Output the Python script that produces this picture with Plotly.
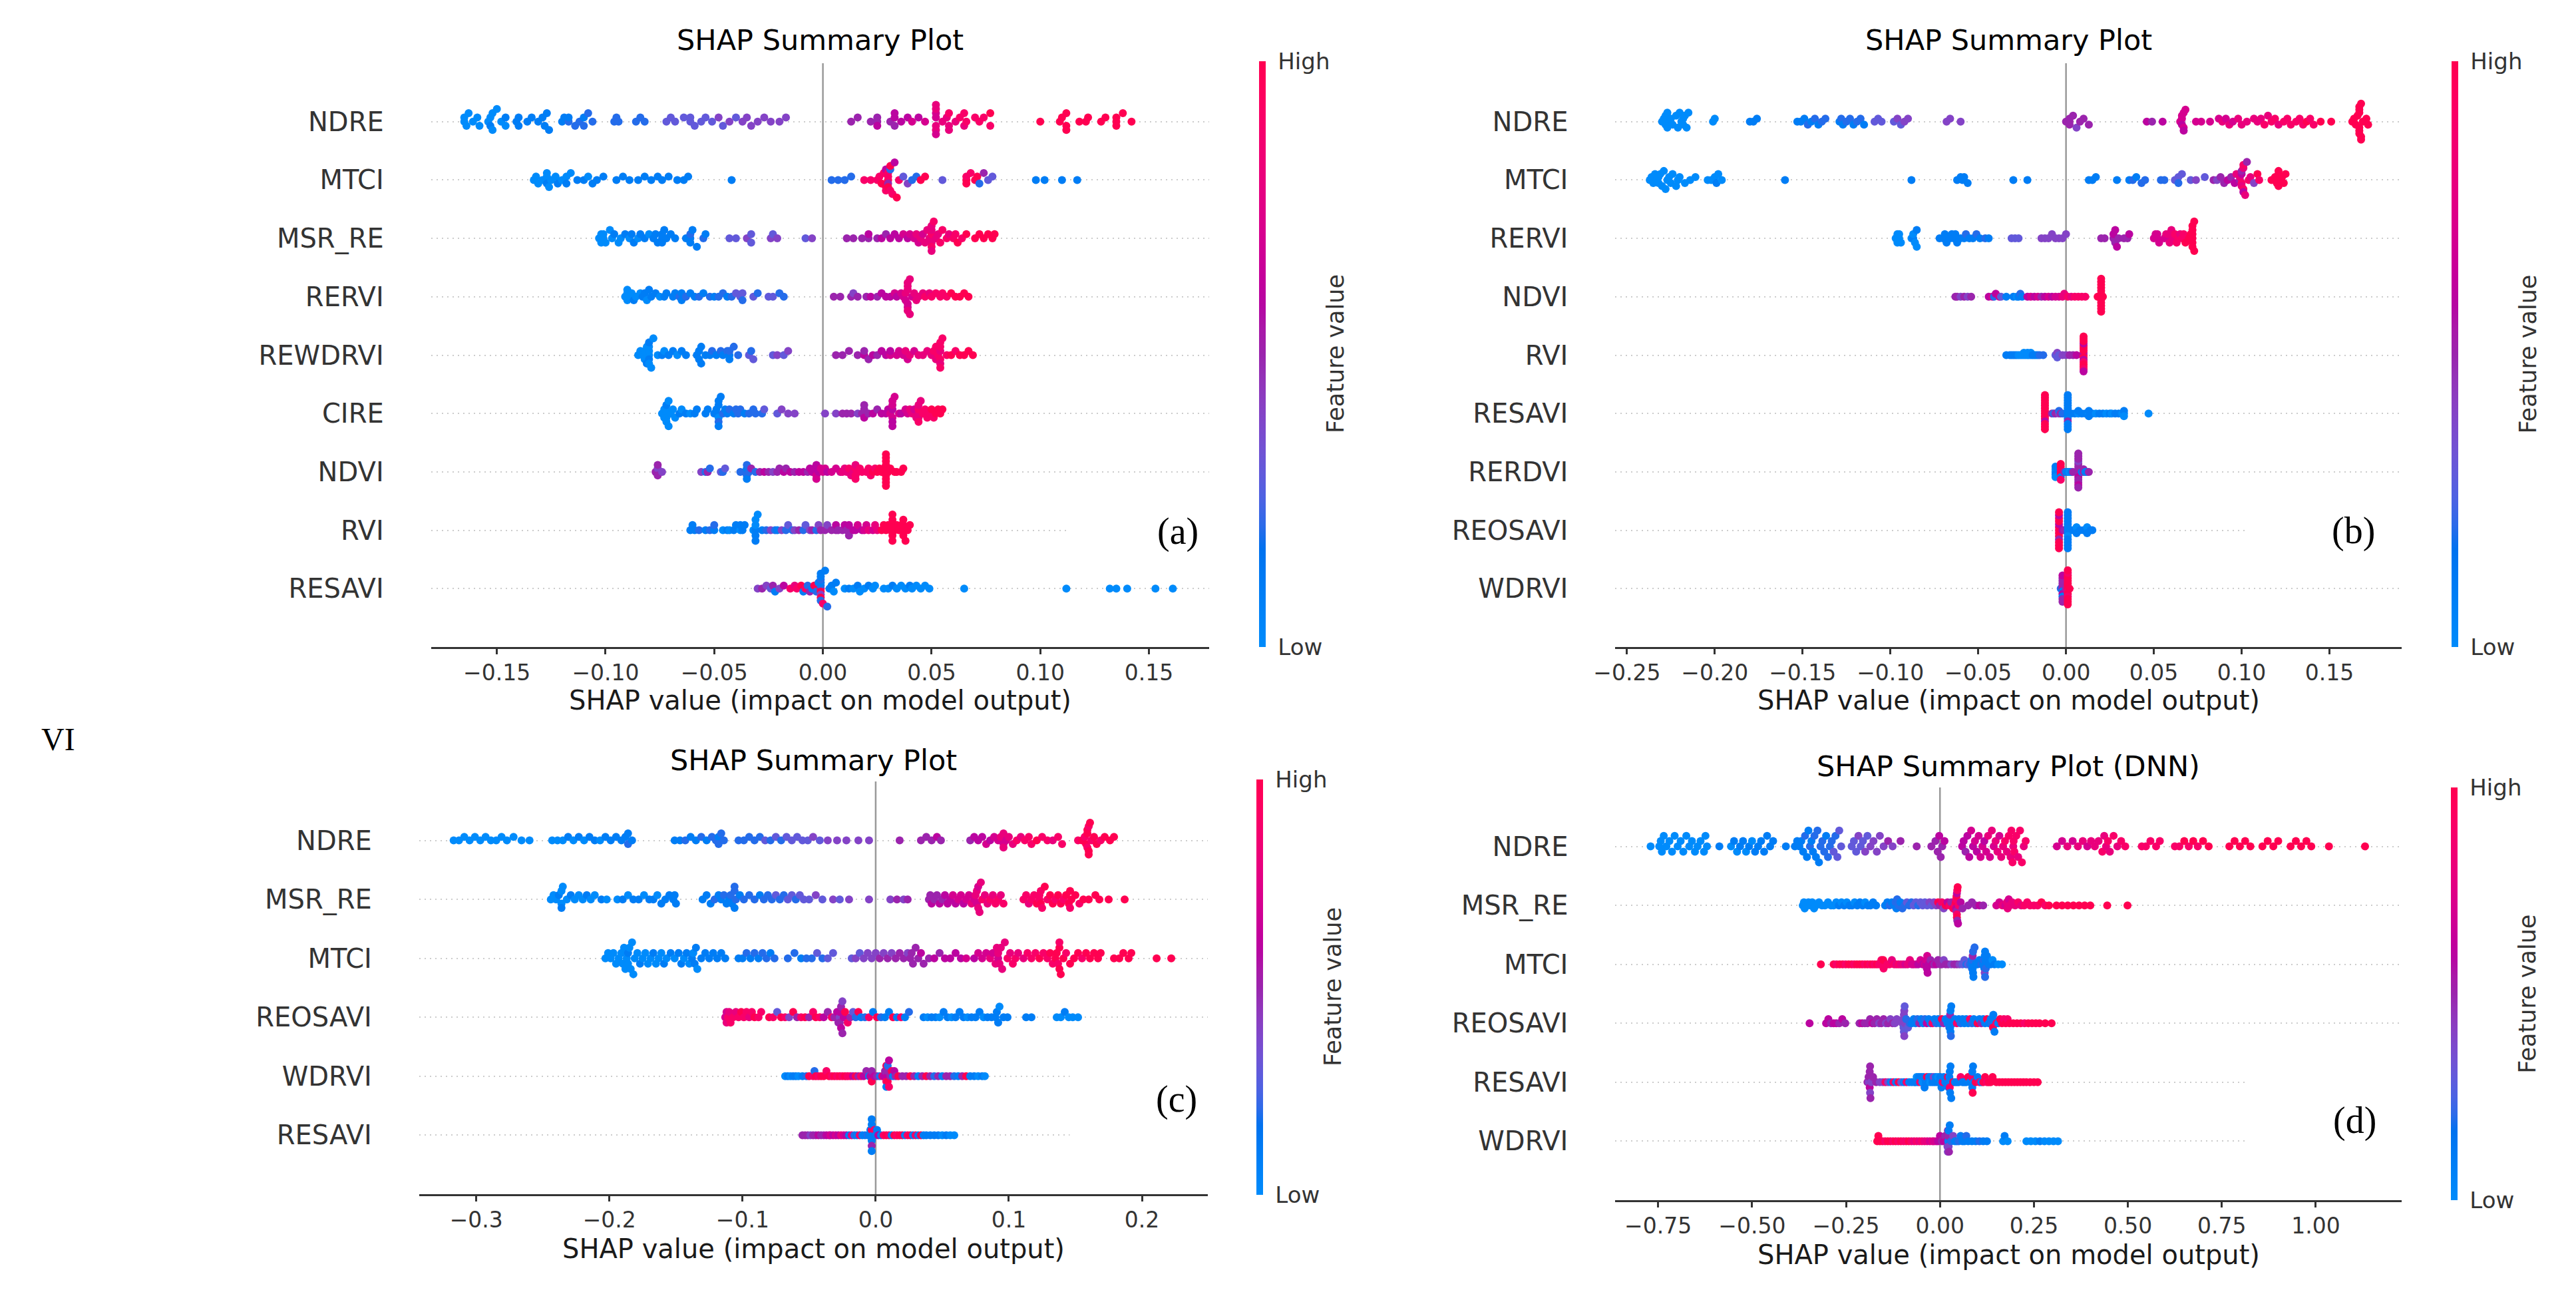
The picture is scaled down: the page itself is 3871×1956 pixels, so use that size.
import numpy as np
import plotly.graph_objects as go

W, H = 3871, 1956

# ---------------- panel (a) ----------------
a_features = ["NDRE", "MTCI", "MSR_RE", "RERVI", "REWDRVI", "CIRE", "NDVI", "RVI", "RESAVI"]
a_ticks = [-0.15, -0.10, -0.05, 0.00, 0.05, 0.10, 0.15]
a_shap = [
    # NDRE
    [-0.165, -0.165, -0.164, -0.163, -0.161, -0.159, -0.158, -0.154, -0.153, -0.153, -0.152, -0.152, -0.150, -0.148, -0.146, -0.146,
     -0.141, -0.140, -0.140, -0.136, -0.134, -0.131, -0.129, -0.128, -0.127, -0.126,
     -0.120, -0.119, -0.117, -0.117, -0.114, -0.112, -0.110, -0.110, -0.108, -0.106,
     -0.096, -0.095, -0.094, -0.086, -0.084, -0.082,
     -0.072, -0.070, -0.068, -0.064, -0.061, -0.061, -0.059, -0.056, -0.054,
     -0.051, -0.048, -0.046, -0.043, -0.040, -0.037, -0.035,
     -0.033, -0.030, -0.027, -0.024, -0.020, -0.017,
     0.013, 0.016, 0.022, 0.025, 0.025, 0.025,
     0.031, 0.033, 0.033, 0.033, 0.036, 0.039, 0.041, 0.044, 0.047,
     0.052, 0.052, 0.052, 0.052, 0.052, 0.052, 0.052,
     0.055, 0.057, 0.058, 0.058, 0.058, 0.061, 0.063, 0.065, 0.065, 0.066,
     0.070, 0.072, 0.074, 0.077, 0.077,
     0.100, 0.109, 0.110, 0.112, 0.112, 0.112, 0.118, 0.121, 0.122, 0.128, 0.130, 0.135, 0.135, 0.135, 0.138, 0.142],
    # MTCI
    [-0.133, -0.132, -0.131, -0.129, -0.127, -0.127, -0.127, -0.126, -0.125, -0.123, -0.122, -0.120, -0.118, -0.118, -0.116, -0.113,
     -0.110, -0.108, -0.106, -0.104, -0.101, -0.095, -0.092, -0.089, -0.085, -0.082, -0.079, -0.076, -0.074, -0.071, -0.067, -0.064,
     -0.062, -0.042,
     0.004, 0.007, 0.010, 0.013, 0.019, 0.022, 0.025,
     0.026, 0.027, 0.028, 0.029, 0.029, 0.029, 0.030, 0.030, 0.030, 0.030, 0.030, 0.031, 0.031, 0.031, 0.032, 0.033, 0.034, 0.035,
     0.037, 0.039, 0.041, 0.043, 0.045, 0.047, 0.055,
     0.066, 0.066, 0.066, 0.068, 0.070, 0.071, 0.072, 0.074, 0.076, 0.078, 0.098, 0.102, 0.110, 0.117],
    # MSR_RE
    [-0.103, -0.102, -0.102, -0.101, -0.101, -0.100, -0.098, -0.097, -0.096, -0.094, -0.093, -0.091, -0.089, -0.088,
     -0.087, -0.085, -0.084, -0.082, -0.080, -0.078, -0.077, -0.076, -0.074, -0.074, -0.074, -0.073, -0.072, -0.070, -0.068,
     -0.063, -0.061, -0.061, -0.061, -0.060, -0.058, -0.055, -0.054, -0.043, -0.040, -0.035, -0.033, -0.033,
     -0.024, -0.023, -0.021, -0.008, -0.005,
     0.011, 0.014, 0.018, 0.021, 0.021, 0.025, 0.027, 0.029, 0.031, 0.033, 0.035, 0.037, 0.039, 0.040,
     0.042, 0.043, 0.044, 0.045, 0.046, 0.047, 0.048, 0.049, 0.050, 0.050, 0.050, 0.050, 0.050, 0.050, 0.051, 0.052,
     0.053, 0.054, 0.055, 0.057, 0.058, 0.060, 0.061, 0.062, 0.064, 0.066, 0.070, 0.072, 0.074, 0.076, 0.078, 0.079],
    # RERVI
    [-0.091, -0.090, -0.090, -0.090, -0.089, -0.088, -0.087, -0.086, -0.084, -0.083,
     -0.082, -0.081, -0.080, -0.079, -0.077, -0.075, -0.073, -0.072,
     -0.069, -0.068, -0.066, -0.065, -0.065, -0.063, -0.061, -0.059, -0.057, -0.055,
     -0.052, -0.050, -0.048, -0.046, -0.044, -0.042, -0.040, -0.038, -0.037, -0.037,
     -0.032, -0.030, -0.025, -0.023, -0.020, -0.018,
     0.005, 0.008, 0.013, 0.014, 0.016, 0.020, 0.022, 0.025, 0.027, 0.029, 0.031, 0.033, 0.034,
     0.036, 0.037, 0.038, 0.038, 0.039, 0.039, 0.039, 0.039, 0.039, 0.039, 0.040, 0.040, 0.041, 0.042, 0.043, 0.044,
     0.046, 0.047, 0.049, 0.050, 0.052, 0.054, 0.055, 0.057, 0.059, 0.061, 0.063, 0.065, 0.067],
    # REWDRVI
    [-0.085, -0.084, -0.083, -0.082, -0.082, -0.081, -0.081, -0.080, -0.080, -0.080, -0.080, -0.080, -0.080, -0.079, -0.078,
     -0.076, -0.074, -0.073, -0.071, -0.069, -0.067, -0.065, -0.063,
     -0.058, -0.057, -0.057, -0.056, -0.056,
     -0.054, -0.052, -0.051, -0.049, -0.047, -0.046, -0.044, -0.043, -0.043, -0.043,
     -0.041, -0.039, -0.034, -0.033, -0.032, -0.023, -0.021, -0.018, -0.016,
     0.006, 0.009, 0.012, 0.016, 0.019, 0.019, 0.021, 0.023, 0.025, 0.027, 0.029, 0.031, 0.031, 0.034,
     0.035, 0.037, 0.038, 0.039, 0.040, 0.042, 0.044, 0.046, 0.048, 0.050,
     0.051, 0.052, 0.052, 0.053, 0.054, 0.054, 0.054, 0.054, 0.054, 0.054, 0.055, 0.057, 0.059, 0.061,
     0.063, 0.065, 0.067, 0.069],
    # CIRE
    [-0.074, -0.073, -0.073, -0.072, -0.072, -0.072, -0.072, -0.072, -0.071, -0.071, -0.070, -0.069,
     -0.068, -0.066, -0.065, -0.063, -0.061, -0.059, -0.058,
     -0.054, -0.053, -0.050, -0.049, -0.049, -0.048, -0.048, -0.048, -0.048, -0.048, -0.047, -0.046, -0.045,
     -0.044, -0.043, -0.041, -0.040, -0.039, -0.038, -0.036, -0.034, -0.032, -0.031,
     -0.028, -0.027, -0.021, -0.019, -0.016, -0.013,
     0.001, 0.006, 0.009, 0.011, 0.013, 0.016, 0.018, 0.019, 0.019, 0.019,
     0.021, 0.023, 0.025, 0.027, 0.029,
     0.030, 0.031, 0.032, 0.032, 0.032, 0.032, 0.032, 0.032, 0.033, 0.035, 0.036, 0.038, 0.039, 0.040,
     0.041, 0.042, 0.043, 0.044, 0.044, 0.044, 0.044, 0.044, 0.045, 0.046, 0.047, 0.048, 0.049,
     0.050, 0.051, 0.052, 0.053, 0.054, 0.055],
    # NDVI
    [-0.077, -0.076, -0.076, -0.076, -0.074, -0.056, -0.054, -0.053, -0.052, -0.047, -0.046, -0.045,
     -0.038, -0.036, -0.035, -0.035, -0.035, -0.035, -0.034,
     -0.033, -0.031, -0.029, -0.027, -0.025, -0.023, -0.021,
     -0.020, -0.018, -0.017, -0.015, -0.013, -0.011, -0.009, -0.007, -0.006, -0.005,
     -0.004, -0.003, -0.003, -0.003, -0.002, -0.001, 0.000, 0.001, 0.002,
     0.004, 0.006, 0.008, 0.009,
     0.010, 0.011, 0.012, 0.013, 0.014, 0.015, 0.015, 0.015, 0.015, 0.016, 0.017, 0.018,
     0.020, 0.021, 0.022, 0.023, 0.024, 0.025, 0.026,
     0.027, 0.028, 0.029, 0.029, 0.029, 0.029, 0.029, 0.029, 0.029, 0.029, 0.030, 0.031,
     0.033, 0.034, 0.036, 0.037],
    # RVI
    [-0.061, -0.060, -0.059, -0.057, -0.054, -0.052, -0.050, -0.050,
     -0.046, -0.044, -0.043, -0.041, -0.040, -0.038, -0.038, -0.037, -0.036,
     -0.032, -0.031, -0.031, -0.031, -0.031, -0.031, -0.030,
     -0.028, -0.026, -0.024, -0.022, -0.021, -0.019, -0.017,
     -0.016, -0.014, -0.013, -0.011, -0.009, -0.008, -0.006, -0.005, -0.003, -0.002, -0.001,
     0.001, 0.002, 0.004, 0.006, 0.006, 0.007, 0.009, 0.010, 0.011, 0.012, 0.012, 0.014,
     0.015, 0.016, 0.018, 0.019, 0.020, 0.021, 0.023, 0.024, 0.025,
     0.027, 0.028, 0.029, 0.030, 0.031, 0.032, 0.032, 0.032, 0.032, 0.032, 0.033, 0.034, 0.035, 0.036,
     0.037, 0.037, 0.037, 0.037, 0.038, 0.039, 0.040],
    # RESAVI
    [-0.030, -0.028, -0.026, -0.024, -0.023, -0.022, -0.020, -0.018, -0.015, -0.013, -0.012,
     -0.010, -0.009, -0.008, -0.007, -0.006,
     -0.005, -0.004, -0.003, -0.002, -0.001, -0.001, -0.001, -0.001, -0.001, -0.001, -0.001, -0.001, -0.001, -0.001,
     0.000, 0.001, 0.002,
     0.003, 0.004, 0.005, 0.006, 0.010, 0.012, 0.014, 0.016, 0.017, 0.019, 0.021, 0.023, 0.024,
     0.028, 0.030, 0.032, 0.034, 0.036, 0.038, 0.040, 0.041, 0.043, 0.045, 0.047, 0.049,
     0.065, 0.112, 0.132, 0.135, 0.140, 0.153, 0.161],
]
# feature value of each point, 0 = low ... 10 = high
a_color = [
    [0, 0, 0, 0, 0, 0, 0, 0, 0, 1, 0, 0, 0, 0, 1, 0, 1, 1, 1, 1, 1, 1, 1, 1, 1, 1, 1, 1, 2, 1, 2, 2, 1, 2, 2, 2,
     2, 2, 2, 2, 2, 2, 3, 3, 3, 3, 3, 3, 3, 3, 3, 3, 4, 3, 4, 3, 4, 4, 4, 4, 4, 4, 4, 4,
     5, 5, 5, 5, 5, 6, 5, 6, 5, 6, 6, 6, 7, 6, 7, 7, 8, 7, 8, 8, 7, 8, 8, 8, 8, 9, 8, 8, 9, 8, 9, 9,
     9, 9, 9, 9, 10, 10, 10, 10, 10, 10, 10, 10, 10, 10, 10, 10, 10, 10, 10, 10, 10],
    [0, 0, 0, 0, 0, 1, 0, 0, 0, 0, 1, 0, 0, 1, 0, 1, 1, 0, 1, 1, 1, 1, 1, 1, 1, 1, 1, 1, 1, 1, 1, 1, 1, 1,
     2, 2, 2, 2, 9, 9, 9, 9, 10, 9, 10, 6, 9, 10, 9, 5, 9, 10, 2, 9, 10, 9, 6, 10, 9,
     3, 4, 2, 2, 10, 10, 3, 10, 9, 10, 9, 10, 10, 2, 5, 3, 3, 1, 1, 1, 1],
    [0, 0, 0, 0, 0, 0, 0, 0, 1, 0, 0, 1, 0, 1, 1, 0, 1, 1, 0, 1, 1, 1, 1, 1, 1, 1, 1, 1, 1,
     1, 1, 2, 1, 1, 1, 2, 1, 3, 3, 4, 3, 3, 4, 3, 4, 3, 4,
     5, 5, 5, 5, 6, 5, 6, 5, 6, 6, 6, 7, 6, 7,
     7, 8, 7, 8, 7, 8, 8, 8, 9, 8, 8, 9, 8, 8, 9, 8,
     8, 9, 9, 9, 8, 9, 9, 10, 9, 10, 10, 10, 10, 10, 10, 10],
    [0, 0, 0, 0, 0, 0, 1, 0, 0, 1, 1, 0, 1, 1, 1, 0, 1, 1, 1, 1, 2, 1, 1, 2, 1, 1, 2, 1,
     2, 1, 2, 2, 1, 2, 3, 3, 3, 2, 3, 2, 3, 3, 2, 2,
     5, 5, 5, 4, 5, 5, 6, 5, 6, 6, 6, 7, 6,
     7, 7, 8, 7, 8, 7, 8, 7, 8, 8, 8, 8, 7, 8, 8, 8,
     8, 9, 8, 9, 9, 9, 9, 9, 10, 10, 10, 10, 10],
    [0, 0, 0, 0, 0, 0, 1, 0, 0, 1, 0, 0, 1, 0, 0, 0, 1, 0, 1, 1, 0, 1, 1, 1, 1, 1, 1, 1,
     1, 1, 2, 1, 2, 1, 2, 1, 2, 1, 2, 2, 3, 2, 3, 3, 4, 3, 4,
     5, 5, 5, 5, 6, 5, 5, 6, 5, 6, 6, 7, 6, 7, 7, 7, 8, 7, 8, 7, 8, 8, 8, 8,
     9, 8, 9, 9, 8, 9, 9, 8, 9, 9, 9, 9, 10, 9, 10, 10, 10, 10],
    [0, 0, 0, 0, 0, 0, 1, 0, 0, 0, 0, 0, 0, 1, 0, 1, 0, 1, 1,
     1, 1, 1, 1, 1, 0, 1, 2, 1, 1, 1, 2, 1, 1, 2, 1, 2, 2, 2, 1, 2, 2, 2, 2, 3, 3, 4, 4, 4,
     4, 4, 5, 5, 5, 4, 5, 5, 6, 5, 5, 6, 5, 6, 6,
     6, 7, 6, 7, 7, 6, 7, 6, 7, 7, 6, 7, 7, 8, 8, 7, 8, 8, 9, 8, 8, 9, 8, 9, 9, 9, 9,
     10, 9, 10, 10, 10, 10],
    [5, 4, 5, 5, 4, 4, 2, 5, 2, 3, 2, 3, 2, 2, 1, 2, 2, 1, 2, 5, 2, 5, 6, 5, 4, 5,
     5, 6, 5, 6, 5, 6, 6, 5, 6, 6, 6, 7, 6, 7, 6, 7, 7, 7, 6,
     7, 7, 7, 8, 8, 8, 9, 8, 8, 9, 9, 8, 9, 9, 9, 9, 9, 9, 9, 10, 9, 10, 10,
     10, 10, 10, 10, 10, 10, 10, 10, 10, 10, 10, 10, 10, 10, 10, 10],
    [1, 1, 1, 2, 1, 2, 1, 2, 0, 1, 0, 1, 1, 0, 1, 1, 1, 0, 1, 0, 1, 0, 1, 0,
     1, 2, 4, 2, 1, 4, 2, 3, 2, 4, 5, 2, 3, 4, 5, 2, 4, 5,
     5, 4, 5, 5, 6, 5, 5, 6, 5, 6, 5, 6, 6, 7, 6, 7, 7, 8, 7, 8, 8,
     10, 10, 10, 10, 10, 10, 10, 10, 10, 10, 10, 10, 10, 10, 10, 10, 10, 10, 10, 10, 10],
    [4, 5, 4, 3, 5, 1, 4, 6, 9, 8, 9, 10, 1, 9, 2, 5,
     1, 10, 2, 1, 9, 2, 10, 1, 4, 2, 10, 1, 2, 1, 9, 1, 2,
     1, 1, 0, 1, 0, 1, 0, 1, 0, 0, 1, 0, 0,
     0, 0, 1, 0, 0, 0, 1, 0, 0, 0, 0, 0, 0, 0, 0, 0, 0, 0, 0],
]

# ---------------- panel (b) ----------------
b_features = ["NDRE", "MTCI", "RERVI", "NDVI", "RVI", "RESAVI", "RERDVI", "REOSAVI", "WDRVI"]
b_ticks = [-0.25, -0.20, -0.15, -0.10, -0.05, 0.00, 0.05, 0.10, 0.15]
b_shap = [
    [-0.230, -0.229, -0.228, -0.228, -0.227, -0.227, -0.226, -0.225, -0.224, -0.222, -0.221, -0.220, -0.219, -0.218, -0.218,
     -0.217, -0.216, -0.215, -0.201, -0.200, -0.180, -0.178, -0.176,
     -0.153, -0.151, -0.149, -0.147, -0.145, -0.143, -0.141, -0.139, -0.137,
     -0.129, -0.128, -0.127, -0.125, -0.123, -0.121, -0.119, -0.117, -0.115,
     -0.109, -0.107, -0.105, -0.098, -0.096, -0.094, -0.092, -0.090, -0.068, -0.066, -0.060,
     0.000, 0.002, 0.002, 0.002, 0.004, 0.006, 0.008, 0.010, 0.013, 0.046, 0.049, 0.055,
     0.065, 0.066, 0.066, 0.066, 0.067, 0.067, 0.067, 0.068, 0.074, 0.077, 0.082,
     0.087, 0.089, 0.091, 0.093, 0.095, 0.098, 0.100, 0.103,
     0.107, 0.109, 0.111, 0.113, 0.115, 0.117, 0.119, 0.121, 0.124, 0.126,
     0.128, 0.131, 0.133, 0.135, 0.137, 0.139, 0.141, 0.145, 0.151,
     0.163, 0.164, 0.165, 0.166, 0.167, 0.167, 0.167, 0.167, 0.167, 0.167, 0.168, 0.168, 0.168, 0.169, 0.171, 0.172],
    [-0.237, -0.236, -0.235, -0.234, -0.233, -0.232, -0.232, -0.231, -0.230, -0.229, -0.228, -0.227, -0.226, -0.225, -0.224,
     -0.222, -0.221, -0.220, -0.217, -0.214, -0.211, -0.204, -0.202, -0.200, -0.199, -0.198, -0.196,
     -0.160, -0.088, -0.062, -0.060, -0.059, -0.058, -0.056, -0.030, -0.022,
     0.013, 0.015, 0.017, 0.029, 0.036, 0.038, 0.040, 0.043, 0.045, 0.054, 0.056, 0.062, 0.064, 0.064, 0.066,
     0.071, 0.074, 0.079, 0.084, 0.086, 0.088, 0.090, 0.092, 0.094,
     0.096, 0.097, 0.099, 0.099, 0.100, 0.100, 0.100, 0.100, 0.101, 0.101, 0.101, 0.101, 0.102, 0.103, 0.104,
     0.105, 0.107, 0.109, 0.110, 0.117, 0.119, 0.120, 0.121, 0.121, 0.121, 0.122, 0.123, 0.124, 0.125],
    [-0.097, -0.096, -0.096, -0.095, -0.095, -0.094, -0.088, -0.087, -0.087, -0.086, -0.085, -0.085,
     -0.072, -0.070, -0.069, -0.068, -0.066, -0.065, -0.064, -0.063, -0.062, -0.060, -0.058, -0.057, -0.055,
     -0.053, -0.051, -0.049, -0.046, -0.044, -0.031, -0.029, -0.027,
     -0.014, -0.012, -0.010, -0.008, -0.006, -0.004, -0.002, 0.000,
     0.020, 0.022, 0.027, 0.027, 0.028, 0.028, 0.029, 0.030, 0.033, 0.035, 0.036,
     0.050, 0.051, 0.052, 0.052, 0.053, 0.056, 0.057, 0.058, 0.058, 0.059, 0.060, 0.061, 0.062,
     0.063, 0.064, 0.065, 0.066, 0.067, 0.068, 0.070, 0.071, 0.072, 0.072, 0.072, 0.072, 0.072, 0.072, 0.073, 0.073],
    [-0.063, -0.062, -0.060, -0.058, -0.056, -0.054, -0.044, -0.042, -0.041, -0.040, -0.038, -0.037, -0.034,
     -0.030, -0.028, -0.027, -0.026, -0.025,
     -0.022, -0.020, -0.018, -0.016, -0.014, -0.012, -0.010, -0.008, -0.006, -0.004, -0.002,
     -0.001, 0.001, 0.003, 0.005, 0.007, 0.009, 0.011,
     0.018, 0.019, 0.020, 0.020, 0.020, 0.020, 0.020, 0.020, 0.020, 0.020, 0.020, 0.020, 0.020, 0.021],
    [-0.034, -0.032, -0.031, -0.030, -0.029, -0.028, -0.027, -0.026, -0.025, -0.024, -0.024, -0.023, -0.022, -0.022,
     -0.021, -0.020, -0.020, -0.019, -0.018, -0.017, -0.016, -0.015, -0.013,
     -0.006, -0.005, -0.005, -0.005, -0.004, -0.002, 0.000, 0.002, 0.004, 0.006,
     0.010, 0.010, 0.010, 0.010, 0.010, 0.010, 0.010, 0.010, 0.010, 0.010, 0.010, 0.010, 0.010, 0.010, 0.010, 0.010],
    [-0.012, -0.012, -0.012, -0.012, -0.012, -0.012, -0.012, -0.012, -0.012, -0.012, -0.012, -0.012, -0.012, -0.012,
     -0.008, -0.007, -0.006, -0.004, -0.004, -0.003, -0.002,
     0.001, 0.001, 0.001, 0.001, 0.001, 0.001, 0.001, 0.001, 0.001, 0.001, 0.001, 0.001, 0.001, 0.001,
     0.003, 0.005, 0.007, 0.007, 0.009, 0.011, 0.013, 0.013, 0.013, 0.015, 0.017, 0.019, 0.021, 0.023,
     0.025, 0.026, 0.028, 0.030, 0.032, 0.033, 0.033, 0.033, 0.047],
    [-0.006, -0.006, -0.006, -0.006, -0.006, -0.003, -0.003, -0.003, -0.003, -0.003, -0.003, -0.003, -0.001,
     0.000, 0.001, 0.002, 0.003, 0.004,
     0.007, 0.007, 0.007, 0.007, 0.007, 0.007, 0.007, 0.007, 0.007, 0.007, 0.007, 0.007, 0.007, 0.007,
     0.009, 0.010, 0.010, 0.011, 0.012, 0.013],
    [-0.004, -0.004, -0.004, -0.004, -0.004, -0.004, -0.004, -0.004, -0.004, -0.004, -0.004, -0.004, -0.004,
     -0.002, -0.001,
     0.001, 0.001, 0.001, 0.001, 0.001, 0.001, 0.001, 0.001, 0.001, 0.001, 0.001, 0.001, 0.001,
     0.004, 0.005, 0.006, 0.006, 0.006, 0.008, 0.010, 0.012, 0.012, 0.012, 0.014, 0.015],
    [-0.003, -0.002, -0.002, -0.002, -0.002, -0.002, -0.002, -0.002, -0.002, -0.002, -0.002, -0.002, 0.000,
     0.001, 0.001, 0.001, 0.001, 0.001, 0.001, 0.001, 0.001, 0.001, 0.001, 0.001, 0.001, 0.001, 0.001, 0.002],
]
b_color = [
    [0, 0, 0, 0, 0, 0, 0, 0, 0, 0, 0, 0, 0, 0, 0, 0, 0, 0, 0, 0, 1, 1, 1,
     1, 1, 1, 2, 1, 2, 1, 2, 2, 1, 2, 1, 2, 2, 1, 2, 2, 1, 3, 3, 3, 3, 4, 3, 4, 4, 4, 4, 4,
     5, 5, 5, 5, 5, 4, 5, 5, 5, 6, 5, 6, 7, 7, 6, 7, 7, 7, 6, 7, 7, 7, 7,
     7, 8, 7, 8, 7, 8, 8, 8, 8, 8, 8, 9, 8, 9, 9, 8, 9, 9,
     9, 9, 9, 9, 10, 9, 9, 10, 10,
     10, 10, 10, 10, 10, 10, 10, 10, 10, 10, 10, 10, 10, 10, 10, 10],
    [0, 0, 0, 0, 0, 0, 0, 0, 0, 0, 0, 0, 0, 0, 0, 0, 0, 0, 0, 0, 0, 0, 0, 0, 1, 0, 0,
     1, 1, 1, 1, 1, 1, 1, 1, 1,
     1, 1, 1, 1, 1, 2, 1, 2, 2, 2, 2, 3, 3, 2, 3, 3, 4, 3, 5, 4, 5, 5, 6, 5,
     6, 8, 5, 8, 9, 6, 8, 5, 9, 8, 6, 9, 8, 5, 9,
     8, 4, 10, 9, 10, 10, 10, 10, 10, 10, 10, 10, 10, 10],
    [0, 0, 0, 0, 0, 0, 0, 1, 0, 0, 1, 0,
     1, 1, 1, 1, 1, 1, 1, 1, 1, 1, 1, 2, 1, 1, 2, 1, 2, 1, 3, 3, 3,
     4, 4, 4, 4, 4, 4, 4, 4,
     5, 5, 5, 6, 5, 6, 6, 5, 5, 5, 6,
     7, 7, 7, 7, 7, 7, 8, 7, 8, 8, 8, 8, 9,
     9, 9, 8, 9, 9, 10, 10, 10, 10, 10, 10, 10, 10, 10, 10, 10],
    [5, 5, 4, 5, 4, 5, 6, 7, 2, 6, 7, 3, 1, 1, 0, 1, 2, 1,
     6, 7, 6, 7, 5, 6, 7, 6, 7, 7, 8, 8, 9, 8, 9, 9, 9, 9,
     10, 10, 10, 10, 10, 10, 10, 10, 10, 10, 10, 10, 10, 10],
    [1, 1, 1, 1, 1, 1, 0, 0, 0, 0, 0, 0, 0, 0, 0, 0, 0, 1, 1, 1, 1, 2, 2,
     3, 3, 4, 3, 3, 4, 4, 5, 5, 6,
     10, 6, 10, 10, 6, 10, 9, 10, 10, 6, 10, 10, 9, 10, 6, 10],
    [10, 10, 10, 10, 10, 10, 6, 10, 10, 10, 10, 10, 10, 10, 5, 2, 5, 4, 2, 5, 2,
     1, 1, 1, 1, 1, 1, 5, 1, 1, 1, 1, 1, 1, 1,
     1, 1, 0, 1, 1, 1, 0, 1, 1, 1, 0, 1, 1, 0, 1, 0, 1, 1, 0, 0, 1, 0, 0],
    [1, 0, 1, 1, 0, 10, 9, 10, 10, 1, 10, 9, 5, 1, 1, 0, 1, 5,
     5, 5, 5, 5, 6, 5, 5, 4, 5, 5, 6, 5, 5, 5, 1, 5, 5, 1, 1, 5],
    [10, 10, 10, 6, 10, 10, 5, 10, 10, 6, 10, 10, 10, 6, 5,
     1, 1, 1, 1, 0, 1, 1, 1, 1, 1, 1, 1, 1, 1, 1, 1, 0, 1, 1, 1, 1, 0, 1, 1, 1],
    [2, 5, 5, 1, 5, 6, 5, 1, 5, 5, 6, 5, 5,
     10, 10, 9, 10, 10, 10, 9, 10, 10, 10, 10, 9, 10, 10, 10],
]

# ---------------- panel (c) ----------------
c_features = ["NDRE", "MSR_RE", "MTCI", "REOSAVI", "WDRVI", "RESAVI"]
c_ticks = [-0.3, -0.2, -0.1, 0.0, 0.1, 0.2]
c_shap = [
    [-0.317, -0.313, -0.309, -0.305, -0.301, -0.297, -0.293, -0.289, -0.285, -0.281, -0.277, -0.272, -0.266, -0.260,
     -0.243, -0.239, -0.235, -0.231, -0.227, -0.223, -0.219, -0.215, -0.211, -0.207, -0.203, -0.199, -0.195, -0.191,
     -0.188, -0.186, -0.186, -0.183,
     -0.151, -0.147, -0.143, -0.139, -0.135, -0.131, -0.127, -0.123, -0.120, -0.118, -0.118, -0.116, -0.114,
     -0.103, -0.099, -0.095, -0.091, -0.087, -0.083, -0.079, -0.075, -0.071, -0.067, -0.063, -0.059, -0.055, -0.051,
     -0.047, -0.042, -0.036, -0.029, -0.022, -0.013, -0.005,
     0.018, 0.034, 0.038, 0.042, 0.046, 0.049,
     0.071, 0.074, 0.077, 0.080, 0.083, 0.086, 0.089, 0.092, 0.094, 0.096, 0.096, 0.096, 0.098, 0.100, 0.103, 0.106,
     0.109, 0.112, 0.115, 0.117, 0.121, 0.125, 0.129, 0.133, 0.137, 0.140,
     0.152, 0.155, 0.157, 0.158, 0.159, 0.159, 0.159, 0.160, 0.160, 0.160, 0.161, 0.162, 0.164, 0.166, 0.169, 0.172,
     0.176, 0.179],
    [-0.244, -0.242, -0.240, -0.238, -0.236, -0.236, -0.236, -0.235, -0.232, -0.229, -0.226, -0.223, -0.220, -0.217,
     -0.214, -0.211, -0.206, -0.202,
     -0.194, -0.190, -0.186, -0.182, -0.178, -0.174, -0.170, -0.167, -0.164, -0.161, -0.158, -0.155, -0.152, -0.151, -0.150,
     -0.130, -0.127, -0.124, -0.121, -0.118, -0.116, -0.114, -0.112, -0.110, -0.109, -0.108, -0.106, -0.106, -0.106,
     -0.105, -0.102, -0.099,
     -0.095, -0.091, -0.087, -0.084, -0.081, -0.078, -0.075, -0.072, -0.069, -0.066, -0.063, -0.060, -0.057, -0.054,
     -0.050, -0.045, -0.040, -0.032, -0.027, -0.020,
     -0.005, 0.011, 0.016, 0.021, 0.024,
     0.040, 0.041, 0.042, 0.044, 0.046, 0.048, 0.050, 0.052, 0.054, 0.056, 0.058, 0.060, 0.062, 0.064, 0.066, 0.068,
     0.070, 0.072,
     0.074, 0.075, 0.076, 0.076, 0.077, 0.077, 0.078, 0.079, 0.080, 0.082, 0.084, 0.086, 0.088, 0.090, 0.092, 0.094, 0.096,
     0.111, 0.113, 0.115, 0.117, 0.119, 0.121, 0.123, 0.123, 0.124, 0.124, 0.125, 0.127, 0.129, 0.131, 0.133, 0.135,
     0.137, 0.139, 0.141, 0.143, 0.145, 0.146, 0.146, 0.147, 0.150, 0.153, 0.156, 0.160, 0.165, 0.168,
     0.175, 0.187],
    [-0.203, -0.201, -0.199, -0.197, -0.195, -0.193, -0.191, -0.190, -0.189, -0.188, -0.187, -0.186, -0.186, -0.185,
     -0.184, -0.183, -0.182, -0.181, -0.179, -0.177, -0.175, -0.173, -0.171, -0.169, -0.167, -0.165, -0.163, -0.161, -0.159,
     -0.157, -0.154, -0.151, -0.148, -0.146, -0.144, -0.142, -0.140, -0.138, -0.137, -0.136, -0.135, -0.134, -0.131,
     -0.128, -0.125, -0.122, -0.119, -0.116, -0.113,
     -0.103, -0.100, -0.097, -0.094, -0.091, -0.088, -0.085, -0.082, -0.079, -0.076,
     -0.066, -0.061, -0.056, -0.052, -0.048, -0.044, -0.040, -0.036, -0.032,
     -0.018, -0.015, -0.012, -0.009, -0.006, -0.003, 0.000, 0.003, 0.006, 0.009, 0.012, 0.015, 0.018, 0.021, 0.024,
     0.026, 0.027, 0.028,
     0.030, 0.032, 0.034, 0.036, 0.040, 0.044, 0.048, 0.052, 0.056, 0.060, 0.064, 0.068,
     0.074, 0.077, 0.080, 0.083, 0.086, 0.088, 0.090, 0.091, 0.092, 0.092, 0.093, 0.094, 0.095, 0.097, 0.099, 0.101,
     0.103, 0.105, 0.107,
     0.111, 0.114, 0.117, 0.120, 0.123, 0.126, 0.129, 0.131, 0.133, 0.135, 0.136, 0.137, 0.138, 0.138, 0.138, 0.139,
     0.141, 0.143, 0.146, 0.149, 0.152, 0.155, 0.158, 0.161, 0.164, 0.167, 0.169,
     0.179, 0.183, 0.186, 0.190, 0.192, 0.211, 0.222],
    [-0.113, -0.112, -0.112, -0.111, -0.110, -0.109, -0.107, -0.105, -0.103, -0.101, -0.099, -0.097, -0.095, -0.093,
     -0.091, -0.088, -0.086,
     -0.080, -0.077, -0.074, -0.071, -0.068, -0.065, -0.062, -0.059, -0.056, -0.053, -0.050, -0.047,
     -0.045, -0.042, -0.039, -0.036, -0.033, -0.031, -0.029, -0.028, -0.027, -0.027, -0.027, -0.026, -0.026, -0.025,
     -0.025, -0.024, -0.023, -0.021, -0.019, -0.017, -0.015, -0.013,
     -0.011, -0.008, -0.005, -0.002, 0.001, 0.004, 0.007, 0.010, 0.013, 0.016, 0.019, 0.022, 0.025,
     0.036, 0.039, 0.042, 0.045, 0.048, 0.051, 0.054, 0.057, 0.060, 0.063, 0.066, 0.069, 0.072, 0.075, 0.078, 0.081,
     0.084, 0.087, 0.090, 0.091, 0.092, 0.093, 0.096, 0.099,
     0.113, 0.117, 0.136, 0.139, 0.142, 0.145, 0.148, 0.152],
    [-0.068, -0.066, -0.064, -0.062, -0.060, -0.058, -0.055, -0.052,
     -0.050, -0.047, -0.046, -0.045, -0.043, -0.041, -0.039, -0.037, -0.035, -0.033, -0.031, -0.029, -0.027, -0.025,
     -0.023, -0.021,
     -0.019, -0.017, -0.015, -0.013, -0.011, -0.009, -0.007, -0.005, -0.004, -0.003, -0.003, -0.001, 0.001, 0.003,
     0.005, 0.006, 0.007, 0.008, 0.008, 0.008, 0.009, 0.009, 0.009, 0.009, 0.010, 0.010, 0.011, 0.012, 0.013, 0.014, 0.015,
     0.017, 0.020, 0.023, 0.026, 0.029, 0.032, 0.035, 0.038, 0.041, 0.044, 0.047, 0.050, 0.053, 0.056, 0.059, 0.062,
     0.065, 0.068, 0.071, 0.074, 0.077, 0.080, 0.082],
    [-0.055, -0.053, -0.051, -0.049, -0.047, -0.045, -0.043, -0.041, -0.039, -0.037, -0.035,
     -0.034, -0.032, -0.030, -0.028, -0.026, -0.024, -0.022, -0.020, -0.018, -0.016, -0.014, -0.012,
     -0.010, -0.008, -0.006, -0.005, -0.004, -0.003, -0.003, -0.003, -0.003, -0.003, -0.003, -0.003, -0.002, -0.001,
     0.000, 0.001, 0.002,
     0.004, 0.006, 0.008, 0.010, 0.012, 0.014, 0.016, 0.018, 0.020, 0.022, 0.024, 0.026, 0.028, 0.030, 0.032, 0.034, 0.036,
     0.038, 0.041, 0.044, 0.047, 0.050, 0.053, 0.056, 0.059],
]
c_color = [
    [0, 0, 0, 0, 0, 0, 0, 0, 0, 0, 0, 0, 0, 0,
     0, 0, 0, 1, 0, 1, 0, 1, 1, 0, 1, 1, 1, 1, 1, 2, 1, 1,
     1, 1, 2, 1, 1, 2, 1, 2, 2, 1, 2, 2, 2,
     2, 2, 2, 2, 2, 3, 2, 3, 2, 3, 3, 3, 3, 3, 4, 3, 4, 4, 4, 4, 4,
     5, 5, 5, 5, 6, 5,
     5, 6, 6, 6, 7, 6, 7, 7, 8, 7, 8, 8, 7, 8, 8, 9, 8, 9, 9,
     9, 10, 9, 9, 8, 9, 9,
     9, 10, 9, 10, 10, 9, 10, 10, 9, 10, 10, 9, 10, 10, 9, 10, 10, 10],
    [0, 0, 0, 1, 0, 0, 1, 0, 0, 1, 0, 0, 0, 1, 0, 0, 1, 0,
     0, 1, 0, 1, 1, 0, 1, 1, 0, 1, 1, 1, 1, 1, 1,
     1, 1, 1, 2, 1, 1, 2, 1, 1, 2, 1, 2, 1, 2, 2, 1, 2,
     2, 2, 1, 2, 2, 2, 3, 2, 2, 3, 3, 2, 3, 3, 3, 4, 3, 4, 3, 4,
     4, 4, 5, 4, 5,
     5, 5, 6, 5, 5, 6, 5, 6, 6, 6, 7, 6, 7, 7, 6, 7, 7, 8,
     7, 8, 7, 8, 8, 7, 8, 8, 9, 8, 8, 9, 8, 9, 9, 8, 9,
     9, 9, 8, 9, 9, 10, 9, 9, 10, 9, 9, 10, 9, 10, 10, 9, 10, 10, 9, 10, 10, 10, 9, 10, 10, 9, 10, 10, 10, 10,
     10, 10],
    [0, 0, 0, 0, 0, 0, 0, 0, 0, 0, 0, 1, 0, 0, 0, 0, 0, 0, 0, 1, 0, 0, 0, 0, 1, 0, 0, 0, 1,
     0, 1, 0, 1, 1, 0, 1, 0, 1, 0, 1, 1, 0, 1, 1, 1, 1, 1, 1, 1,
     1, 1, 2, 1, 2, 1, 2, 2, 1, 2,
     2, 2, 1, 2, 2, 3, 2, 3, 3,
     3, 4, 3, 4, 4, 4, 4, 5, 4, 5, 4, 5, 5, 5, 4, 5, 5, 5,
     5, 5, 6, 5, 5, 6, 5, 6, 6, 6, 6, 7,
     6, 7, 7, 7, 8, 7, 8, 8, 7, 8, 8, 8, 8, 8, 9, 8, 9, 9, 8,
     8, 9, 9, 9, 10, 9, 9, 10, 9, 10, 10, 9, 10, 10, 9, 10, 10, 9, 10, 10, 10, 9, 10, 10, 10, 10, 10,
     10, 10, 10, 10, 10, 10, 10],
    [7, 7, 8, 9, 8, 9, 9, 8, 9, 10, 9, 9, 8, 9, 10, 9, 9,
     10, 9, 3, 10, 9, 4, 10, 5, 9, 10, 5, 9,
     10, 9, 6, 5, 9, 5, 6, 5, 4, 6, 5, 5, 6, 4, 5, 6, 10, 9, 5, 3, 2, 10,
     1, 2, 9, 1, 10, 2, 1, 1, 10, 1, 9, 1, 2,
     1, 0, 1, 1, 0, 1, 1, 0, 1, 1, 1, 0, 1, 1, 1, 0, 1, 1, 1, 1, 1, 0, 1, 1,
     1, 1, 0, 0, 1, 0, 0, 0],
    [0, 1, 0, 1, 1, 0, 1, 2,
     10, 9, 2, 10, 9, 10, 10, 9, 10, 9, 10, 9, 10, 9, 10, 9,
     9, 6, 10, 5, 9, 6, 5, 1, 6, 5, 10, 6, 5, 2,
     10, 6, 5, 9, 10, 1, 6, 5, 10, 2, 9, 6, 5, 10, 1, 6, 5,
     10, 5, 5, 10, 5, 1, 5, 10, 5, 2, 5, 1, 5, 5, 2, 1, 5, 10, 1, 1, 0, 1, 0],
    [5, 5, 5, 4, 5, 5, 6, 5, 5, 6, 6,
     7, 6, 7, 6, 8, 7, 6, 1, 8, 2, 1, 9,
     1, 1, 2, 1, 1, 1, 10, 1, 1, 5, 1, 1, 1, 9, 1, 1, 6,
     1, 9, 10, 9, 1, 10, 9, 10, 10, 1, 9, 10, 1, 9, 1, 10, 1,
     1, 1, 1, 1, 0, 1, 0, 0],
]

# ---------------- panel (d) ----------------
d_features = ["NDRE", "MSR_RE", "MTCI", "REOSAVI", "RESAVI", "WDRVI"]
d_ticks = [-0.75, -0.50, -0.25, 0.00, 0.25, 0.50, 0.75, 1.00]
d_shap = [
    [-0.770, -0.747, -0.743, -0.740, -0.735, -0.728, -0.720, -0.713, -0.706, -0.698, -0.690, -0.683, -0.675, -0.667,
     -0.660, -0.652, -0.645, -0.637, -0.628, -0.624, -0.620, -0.587,
     -0.556, -0.548, -0.540, -0.532, -0.524, -0.516, -0.508, -0.500, -0.492, -0.484, -0.476, -0.468, -0.460, -0.452,
     -0.444, -0.410,
     -0.386, -0.380, -0.374, -0.369, -0.364, -0.359, -0.354, -0.350, -0.346, -0.342, -0.338, -0.334, -0.330, -0.326,
     -0.322, -0.318, -0.313, -0.308, -0.303, -0.298, -0.293, -0.288, -0.283, -0.278, -0.273, -0.268, -0.263,
     -0.235, -0.229, -0.223, -0.217, -0.211, -0.205, -0.199, -0.193, -0.185, -0.177, -0.168, -0.160, -0.150, -0.138,
     -0.126, -0.105, -0.062,
     -0.023, -0.012, -0.006, -0.002, 0.002, 0.006, 0.012,
     0.059, 0.063, 0.068, 0.073, 0.078, 0.083, 0.088, 0.093, 0.098, 0.103, 0.108, 0.113, 0.118, 0.123, 0.128, 0.133,
     0.138, 0.143, 0.148, 0.153, 0.158, 0.163, 0.168, 0.173, 0.178, 0.183, 0.188, 0.190, 0.193, 0.195, 0.196, 0.198,
     0.203, 0.208, 0.213, 0.218, 0.223, 0.228,
     0.311, 0.325, 0.339, 0.353, 0.367, 0.380, 0.392, 0.402, 0.412, 0.422, 0.432, 0.437, 0.442, 0.447, 0.452, 0.462,
     0.472, 0.482, 0.493,
     0.537, 0.548, 0.560, 0.575, 0.585, 0.625, 0.637, 0.650, 0.662, 0.674, 0.686, 0.700, 0.715,
     0.770, 0.784, 0.798, 0.812, 0.826, 0.858, 0.872, 0.887, 0.900, 0.933, 0.947, 0.961, 0.975, 0.988, 1.035, 1.131],
    [-0.365, -0.362, -0.360, -0.355, -0.350, -0.345, -0.340, -0.335, -0.330, -0.322, -0.314, -0.306, -0.298, -0.290,
     -0.283, -0.276, -0.269, -0.262, -0.255, -0.248, -0.241, -0.234, -0.227, -0.220, -0.213, -0.206, -0.199, -0.192,
     -0.185, -0.178, -0.170,
     -0.146, -0.140, -0.134, -0.128, -0.122, -0.118, -0.116, -0.114, -0.110, -0.105, -0.100, -0.094, -0.088, -0.082,
     -0.076, -0.070, -0.064, -0.058, -0.052, -0.046, -0.040, -0.034, -0.028, -0.022, -0.016,
     -0.010, -0.005, 0.000, 0.005, 0.010, 0.015, 0.020, 0.025, 0.030, 0.035, 0.040, 0.042, 0.043, 0.043, 0.044, 0.044,
     0.045, 0.045, 0.045, 0.046, 0.046, 0.047, 0.048, 0.050, 0.055, 0.060,
     0.075, 0.085, 0.095, 0.105, 0.115,
     0.150, 0.158, 0.166, 0.174, 0.178, 0.180, 0.183, 0.186, 0.192, 0.200, 0.208, 0.216, 0.224, 0.232, 0.240, 0.250,
     0.260, 0.270, 0.280, 0.290,
     0.310, 0.325, 0.340, 0.355, 0.370, 0.385, 0.400, 0.445, 0.499],
    [-0.317, -0.283, -0.275, -0.267, -0.259, -0.251, -0.243, -0.235, -0.228, -0.221, -0.214, -0.207, -0.200, -0.193,
     -0.186, -0.180, -0.174, -0.168, -0.162, -0.156, -0.152, -0.151, -0.150,
     -0.140, -0.134, -0.128, -0.122, -0.116, -0.110, -0.104, -0.098, -0.092, -0.086, -0.080, -0.075,
     -0.070, -0.064, -0.058, -0.052, -0.046, -0.040, -0.037, -0.036, -0.035, -0.034, -0.033, -0.030, -0.025, -0.020,
     -0.015, -0.010, -0.005, 0.000, 0.005, 0.010,
     0.015, 0.022, 0.030, 0.038, 0.045, 0.052, 0.060,
     0.065, 0.070, 0.075, 0.080, 0.084, 0.085, 0.086, 0.086, 0.087, 0.087, 0.088, 0.088, 0.089, 0.092, 0.095, 0.100,
     0.105, 0.110, 0.113, 0.115, 0.117, 0.118, 0.119, 0.119, 0.120, 0.120, 0.121, 0.121, 0.122, 0.125, 0.130, 0.135,
     0.140, 0.145, 0.155, 0.165],
    [-0.347, -0.303, -0.297, -0.290, -0.283, -0.276, -0.268, -0.260, -0.252,
     -0.214, -0.207, -0.200, -0.193, -0.186, -0.180, -0.174, -0.168, -0.162, -0.156, -0.150, -0.144, -0.138, -0.132,
     -0.126, -0.120, -0.115,
     -0.100, -0.098, -0.097, -0.096, -0.096, -0.095, -0.095, -0.094, -0.093, -0.090, -0.085, -0.080, -0.075,
     -0.070, -0.065, -0.060, -0.055, -0.050, -0.045, -0.040, -0.035, -0.030, -0.025, -0.020, -0.015, -0.010, -0.005,
     0.000, 0.005, 0.010,
     0.015, 0.020, 0.024, 0.025, 0.026, 0.026, 0.027, 0.027, 0.028, 0.028, 0.029, 0.030, 0.035, 0.040, 0.045, 0.050,
     0.055, 0.060, 0.065,
     0.070, 0.075, 0.080, 0.085, 0.090, 0.095, 0.100, 0.105, 0.110, 0.115, 0.120, 0.125, 0.130, 0.135, 0.138, 0.140,
     0.141, 0.142, 0.145, 0.150, 0.155, 0.160, 0.165, 0.170, 0.175, 0.180, 0.185,
     0.195, 0.205, 0.215, 0.225, 0.235, 0.245, 0.255, 0.265, 0.280, 0.297],
    [-0.193, -0.190, -0.189, -0.188, -0.187, -0.187, -0.186, -0.186, -0.185, -0.183, -0.178, -0.170, -0.160,
     -0.152, -0.145, -0.138, -0.131, -0.124, -0.117, -0.110, -0.103, -0.096, -0.089, -0.082, -0.075,
     -0.068, -0.065, -0.062, -0.059, -0.056, -0.053, -0.050, -0.047, -0.044, -0.041, -0.038, -0.035, -0.032, -0.029,
     -0.026, -0.023, -0.020, -0.017, -0.014, -0.011, -0.008, -0.005, -0.002, 0.001, 0.004, 0.007, 0.010,
     0.014, 0.018, 0.021, 0.023, 0.024, 0.025, 0.026, 0.026, 0.027, 0.028, 0.030, 0.035, 0.040, 0.045, 0.050, 0.055,
     0.060, 0.065, 0.070, 0.075, 0.080, 0.084, 0.085, 0.086, 0.086, 0.087, 0.088, 0.090, 0.095, 0.100, 0.105, 0.110,
     0.115, 0.120, 0.125, 0.130, 0.135, 0.140,
     0.150, 0.158, 0.166, 0.174, 0.182, 0.190, 0.198, 0.206, 0.214, 0.222, 0.230, 0.240, 0.250, 0.260],
    [-0.167, -0.164, -0.160, -0.153, -0.146, -0.139, -0.132, -0.125, -0.118, -0.111, -0.104, -0.097, -0.090, -0.083,
     -0.076, -0.069, -0.062, -0.055, -0.048, -0.041, -0.034, -0.027, -0.020, -0.016,
     -0.010, -0.005, 0.000, 0.005, 0.010, 0.014, 0.018, 0.020, 0.020, 0.021, 0.021, 0.022, 0.022, 0.023, 0.023, 0.024,
     0.026, 0.030, 0.035, 0.040, 0.045, 0.050, 0.055, 0.060, 0.065, 0.070, 0.075,
     0.085, 0.095, 0.105, 0.115, 0.125, 0.168, 0.172, 0.180,
     0.230, 0.242, 0.254, 0.266, 0.278, 0.290, 0.302, 0.314],
]
d_color = [
    [0, 0, 0, 0, 0, 0, 0, 0, 0, 0, 0, 0, 0, 0, 0, 0, 0, 0, 0, 0, 0, 1,
     0, 1, 0, 1, 1, 0, 1, 0, 1, 1, 1, 1, 1, 1, 1, 1,
     1, 1, 1, 1, 1, 2, 1, 1, 2, 1, 1, 2, 1, 2, 1, 2, 2, 2, 1, 2, 2, 2, 3, 2, 3, 3, 3,
     3, 3, 3, 4, 3, 3, 4, 3, 4, 4, 4, 4, 4, 5, 4, 5, 5,
     5, 5, 5, 6, 5, 5, 6,
     6, 6, 5, 6, 6, 7, 6, 7, 6, 7, 7, 7, 6, 7, 8, 7, 8, 7, 8, 8, 7, 8, 8, 9, 8, 9, 8, 9, 9, 8, 9, 9, 9, 8, 9, 9, 8, 9,
     7, 7, 8, 7, 8, 8, 7, 8, 8, 8, 9, 8, 8, 9, 8, 9, 8, 9, 9,
     9, 9, 9, 9, 9, 9, 9, 10, 9, 10, 9, 10, 10,
     10, 10, 10, 10, 10, 10, 10, 10, 10, 10, 10, 10, 10, 10, 10, 10],
    [0, 0, 0, 0, 0, 0, 0, 0, 0, 0, 0, 0, 0, 0,
     0, 0, 1, 0, 1, 0, 1, 1, 0, 1, 1, 1, 0, 1, 1, 1, 1,
     1, 1, 2, 1, 1, 2, 1, 2, 2, 1, 2, 2, 3, 2, 2, 3, 3, 2, 3, 3, 3, 3, 4, 3, 4,
     4, 10, 5, 9, 4, 10, 6, 9, 5, 10, 9, 10, 6, 9, 5, 10, 9, 6, 10, 9, 5, 10, 6, 9, 6, 5,
     5, 5, 5, 6, 5,
     7, 7, 8, 7, 8, 8, 7, 8, 8, 8, 9, 8, 9, 9, 9, 9, 9, 10, 9, 10,
     10, 10, 10, 10, 10, 10, 10, 10, 10],
    [10, 10, 9, 10, 10, 9, 10, 10, 9, 10, 10, 10, 9, 10, 9, 10, 9, 10, 9, 9, 9, 10, 9,
     9, 9, 8, 9, 8, 9, 8, 8, 7, 8, 8, 7,
     7, 7, 6, 7, 6, 7, 6, 7, 6, 7, 6, 6, 5, 6, 5, 6, 5, 5, 5, 4,
     5, 5, 4, 5, 5, 4, 3,
     3, 2, 3, 2, 1, 2, 1, 2, 1, 5, 1, 2, 1, 2, 1, 1, 1, 2, 1, 1, 2, 1, 1, 4, 1, 2, 1, 1, 2, 1, 1, 1, 0, 1, 0, 0],
    [6, 6, 6, 5, 6, 6, 5, 6, 5,
     5, 6, 5, 5, 5, 6, 5, 5, 4, 5, 5, 4, 5, 4, 5, 4, 4,
     4, 4, 3, 4, 3, 4, 4, 3, 4, 2, 3, 2, 1,
     1, 1, 2, 5, 1, 1, 2, 6, 1, 1, 9, 1, 2, 1, 1, 10, 5,
     1, 1, 1, 2, 1, 1, 1, 5, 1, 1, 2, 1, 1, 1, 9, 1, 2, 1, 1,
     1, 1, 9, 2, 1, 1, 10, 1, 5, 1, 1, 10, 1, 1, 2, 1, 10, 1, 1, 9, 1, 10, 10, 9, 10, 9, 10,
     10, 10, 10, 9, 10, 10, 10, 10, 10, 10],
    [5, 5, 4, 5, 6, 5, 4, 5, 5, 4, 5, 5, 4,
     4, 9, 4, 1, 9, 1, 10, 3, 1, 9, 1, 1,
     1, 1, 0, 1, 1, 9, 1, 0, 1, 1, 1, 10, 1, 1, 0, 1, 1, 4, 1, 1, 1, 0, 1, 1, 1, 9, 1,
     1, 1, 10, 1, 1, 1, 9, 1, 1, 1, 1, 10, 1, 1, 1, 9, 1, 1, 1, 10, 1, 1, 9, 1, 1, 10, 1, 1, 10, 1, 9, 1, 10, 10, 9,
     10, 10, 10,
     10, 10, 10, 10, 10, 10, 10, 10, 10, 10, 10, 10, 10, 10],
    [10, 10, 10, 10, 9, 10, 10, 9, 10, 9, 10, 9, 9, 10, 9, 8, 9, 8, 9, 8, 8, 7, 8, 7,
     7, 6, 6, 5, 6, 5, 6, 5, 4, 5, 4, 1, 5, 4, 1, 5, 1, 2, 4, 1, 1, 2, 1, 1, 1, 2, 1,
     1, 1, 2, 1, 1, 0, 1, 0,
     0, 0, 0, 1, 0, 0, 0, 0],
]


def red_blue(n=25):
    # shap's red_blue map: interpolation in LCh from blue to red through a darker purple
    stops = []
    m = np.array([[3.2406, -1.5372, -0.4986], [-0.9689, 1.8758, 0.0415], [0.0557, -0.2040, 1.0570]])
    for t in np.linspace(0, 1, n):
        L = 54 - 28 * t if t <= 0.5 else 40 + 28 * (t - 0.5)
        C = 70 + 20 * t
        h = 4.6588 + (0.35470565 + 2 * np.pi - 4.6588) * t
        fy_ = (L + 16) / 116
        f = np.array([fy_ + C * np.cos(h) / 500, fy_, fy_ - C * np.sin(h) / 200])
        xyz = np.where(f > 6 / 29, f ** 3, 3 * (6 / 29) ** 2 * (f - 4 / 29)) * np.array([0.95047, 1.0, 1.08883])
        lin = m @ xyz
        rgb = np.where(lin > 0.0031308, 1.055 * np.abs(lin) ** (1 / 2.4) - 0.055, 12.92 * lin)
        r, g, b = (np.clip(rgb, 0, 1) * 255).round().astype(int)
        stops.append([float(t), f"rgb({r},{g},{b})"])
    return stops


def swarm(vals, nbins=100, row_height=0.4):
    # same stacking as shap's beeswarm summary plot
    v = np.asarray(vals, float)
    quant = np.round(nbins * (v - v.min()) / (v.max() - v.min() + 1e-8))
    ys = np.zeros(len(v))
    layer, last = 0, None
    for i in np.argsort(quant, kind="stable"):
        if quant[i] != last:
            layer = 0
        ys[i] = np.ceil(layer / 2) * ((layer % 2) * 2 - 1)
        layer += 1
        last = quant[i]
    return ys * 0.9 * (row_height / np.max(ys + 1))


def fx(px):
    return px / W


def fy(px):
    return 1 - px / H


def tick_text(ticks, dec):
    return [f"{t:.{dec}f}".replace("-", "\u2212") for t in ticks]


# layout of each panel in page pixels
panels = [
    dict(feat=a_features, shap=a_shap, col=a_color, ticks=a_ticks, dec=2, nbins=50, title="SHAP Summary Plot",
         xpx=(620, 1799), ypx=(95, 972), xr=(-0.1803, 0.1776), cbx=1875, cby=(92, 972),
         title_y=60, xt_y=1052, tag="(a)", tag_xy=(1752, 798), mask=(1584, 1806, 765, 830)),
    dict(feat=b_features, shap=b_shap, col=b_color, ticks=b_ticks, dec=2, nbins=60, title="SHAP Summary Plot",
         xpx=(2415, 3607), ypx=(95, 972), xr=(-0.2566, 0.1912), cbx=3682, cby=(92, 972),
         title_y=60, xt_y=1052, tag="(b)", tag_xy=(3534, 797), mask=(3369, 3614, 765, 830)),
    dict(feat=c_features, shap=c_shap, col=c_color, ticks=c_ticks, dec=1, nbins=70, title="SHAP Summary Plot",
         xpx=(602, 1797), ypx=(1174, 1794), xr=(-0.3429, 0.2493), cbx=1871, cby=(1171, 1795),
         title_y=1142, xt_y=1876, tag="(c)", tag_xy=(1750, 1651), mask=(1588, 1804, 1580, 1745)),
    dict(feat=d_features, shap=d_shap, col=d_color, ticks=d_ticks, dec=2, nbins=70, title="SHAP Summary Plot (DNN)",
         xpx=(2415, 3607), ypx=(1183, 1803), xr=(-0.8638, 1.2289), cbx=3681, cby=(1183, 1803),
         title_y=1151, xt_y=1885, tag="(d)", tag_xy=(3536, 1683), mask=(3369, 3614, 1590, 1750)),
]

scale = red_blue()
fig = go.Figure()
shapes, annots = [], []
layout_axes = {}
CB_THICK = 10

for k, p in enumerate(panels, start=1):
    sfx = "" if k == 1 else str(k)
    n = len(p["feat"])
    xs, ys, cs = [], [], []
    for i, (vals, cols) in enumerate(zip(p["shap"], p["col"])):
        m = min(len(vals), len(cols))
        vals, cols = vals[:m], cols[:m]
        off = swarm(vals, nbins=p["nbins"])
        xs += list(vals)
        ys += list((n - 1 - i) + off)
        cs += list(cols)

    top, bot = p["cby"]
    fig.add_trace(go.Scatter(
        x=xs, y=ys, mode="markers", xaxis="x" + sfx, yaxis="y" + sfx, hoverinfo="skip",
        marker=dict(size=12, color=cs, colorscale=scale, cmin=0, cmax=10, line=dict(width=0),
                    showscale=True,
                    colorbar=dict(x=fx(p["cbx"]), xanchor="left", xpad=0, y=fy((top + bot) / 2), yanchor="middle",
                                  ypad=0, len=bot - top, lenmode="pixels", thickness=CB_THICK, outlinewidth=0,
                                  tickvals=[0, 10], ticktext=["Low", "High"], ticks="outside", ticklen=12,
                                  tickcolor="rgba(0,0,0,0)", tickfont=dict(size=34, color="#333333"))),
    ))

    x0, x1 = p["xpx"]
    y0, y1 = p["ypx"]
    layout_axes["xaxis" + sfx] = dict(
        domain=[fx(x0), fx(x1)], range=list(p["xr"]), anchor="y" + sfx,
        showline=True, linecolor="#333333", linewidth=2.5, ticks="outside", ticklen=8, tickwidth=2.5,
        tickcolor="#333333", tickvals=p["ticks"], ticktext=tick_text(p["ticks"], p["dec"]),
        tickfont=dict(size=33, color="#333333"), showgrid=False, zeroline=False, fixedrange=True)
    layout_axes["yaxis" + sfx] = dict(
        domain=[fy(y1), fy(y0)], range=[-1, n], anchor="x" + sfx,
        tickvals=list(range(n)), ticktext=p["feat"][::-1], ticks="", ticklabelstandoff=70,
        tickfont=dict(size=40, color="#333333"), showgrid=True, gridcolor="#cccccc", gridwidth=1.5,
        griddash="2px,6px", zeroline=False, showline=False, fixedrange=True)

    # zero line behind the points
    shapes.append(dict(type="line", xref="x" + sfx, yref="y" + sfx, x0=0, x1=0, y0=-1, y1=n,
                       line=dict(color="#999999", width=2.5), layer="below"))
    # white patch behind the panel letter that hides part of a row guide
    mx0, mx1, my0, my1 = p["mask"]
    shapes.append(dict(type="rect", xref="paper", yref="paper", x0=fx(mx0), x1=fx(mx1), y0=fy(my1), y1=fy(my0),
                       fillcolor="white", line=dict(width=0), layer="above"))

    cx = (x0 + x1) / 2
    annots.append(dict(text=p["title"], x=fx(cx), y=fy(p["title_y"]), xref="paper", yref="paper",
                       showarrow=False, xanchor="center", yanchor="middle", font=dict(size=43, color="#000000")))
    annots.append(dict(text="SHAP value (impact on model output)", x=fx(cx), y=fy(p["xt_y"]), xref="paper",
                       yref="paper", showarrow=False, xanchor="center", yanchor="middle",
                       font=dict(size=40, color="#1a1a1a")))
    annots.append(dict(text="Feature value", x=fx(p["cbx"] + CB_THICK / 2 + 111), y=fy((top + bot) / 2),
                       xref="paper", yref="paper", showarrow=False, textangle=-90,
                       xanchor="center", yanchor="middle", font=dict(size=35, color="#333333")))
    tx, ty = p["tag_xy"]
    annots.append(dict(text=p["tag"], x=fx(tx), y=fy(ty), xref="paper", yref="paper", showarrow=False,
                       xanchor="center", yanchor="middle",
                       font=dict(family="Liberation Serif", size=56, color="#000000")))

annots.append(dict(text="VI", x=fx(55), y=fy(1110), xref="paper", yref="paper", showarrow=False,
                   xanchor="center", yanchor="middle", font=dict(family="Liberation Serif", size=48, color="#000000")))

fig.update_layout(
    width=W, height=H, margin=dict(l=0, r=0, t=0, b=0), autosize=False,
    paper_bgcolor="white", plot_bgcolor="white", showlegend=False,
    font=dict(family="DejaVu Sans", color="#333333"),
    shapes=shapes, annotations=annots, **layout_axes,
)

fig.write_html("out.html", config={"displayModeBar": False},
               post_script="document.body.style.margin='0';")
